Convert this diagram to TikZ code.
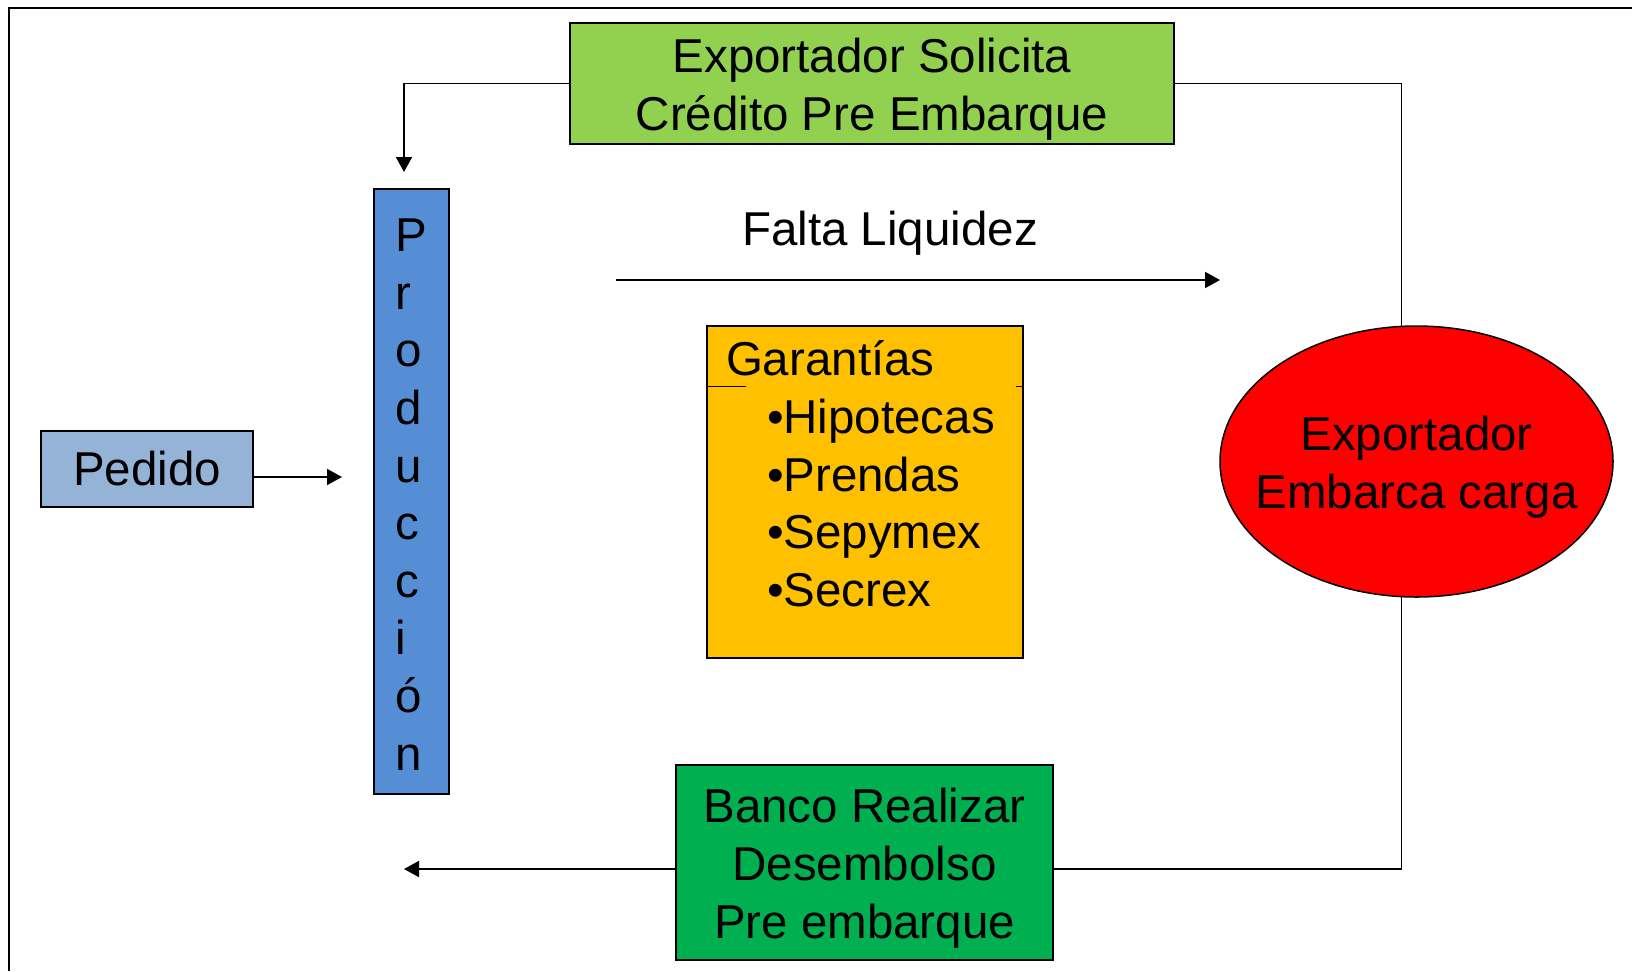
\documentclass[tikz,border=0pt]{standalone}
\usepackage{fontspec}
\setmainfont{Liberation Sans}
\usetikzlibrary{positioning,calc,arrows.meta,shapes.geometric}
\newcommand*{\bigtxt}{\fontsize{23.75pt}{29pt}\selectfont}
\definecolor{solgreen}{HTML}{92D050}
\definecolor{prodblue}{HTML}{558ED5}
\definecolor{pedblue}{HTML}{95B3D7}
\definecolor{garorange}{HTML}{FFC000}
\definecolor{bancogreen}{HTML}{00B050}

\begin{document}
\begin{tikzpicture}[x=0.5pt,y=-0.5pt,
  every node/.style={font=\bigtxt,inner sep=0pt,outer sep=0pt},
  box/.style={draw,line width=0.75pt},
  boxtxt/.style={align=center,yshift=-3pt},
  conn/.style={line width=0.9pt},
  arr/.style={conn,-{Triangle[length=7.5pt,width=8pt]}}]
\useasboundingbox (0,0) rectangle (1632,971);
% Frame (cut at right and bottom)
\draw[line width=0.75pt] (9,971) -- (9,8) -- (1632,8);
% Boxes
\node[box,fill=solgreen,minimum width=302pt,minimum height=60.5pt] (solicita) at (872,83.5) {};
\node[boxtxt] (solicitatxt) at (solicita.center) {Exportador Solicita\\Crédito Pre Embarque};
\node[box,fill=prodblue,minimum width=37.5pt,minimum height=302.5pt] (prod) at (411.5,491.5) {};
\node[align=left,yshift=-1.5pt,font=\fontsize{23.75pt}{28.8pt}\selectfont] (prodtxt) at (prod.center) {P\\r\\o\\d\\u\\c\\c\\i\\ó\\n};
\node[box,fill=pedblue,minimum width=106pt,minimum height=38pt] (pedido) at (147,469) {Pedido};
\node[box,fill=garorange,minimum width=158pt,minimum height=166pt] (garant) at (865,492) {};
\node[anchor=base west] (garhead) at (726,375) {Garantías};
\foreach \name/\txt/\y in {hipo/Hipotecas/433.5,prend/Prendas/491,sepy/Sepymex/548.5,secr/Secrex/606}
  \node[anchor=base west] (\name) at (767,\y) {•\txt};
\draw[line width=0.5pt] (707,386) -- (746,386);
\draw[line width=0.5pt] (1016,386) -- (1023,386);
\node[ellipse,draw,line width=0.75pt,fill=red,minimum width=196.5pt,minimum height=135.5pt] (embarca) at (1416.5,461.5) {};
\node[boxtxt] (embarcatxt) at (embarca.center) {Exportador\\Embarca carga};
\node[box,fill=bancogreen,minimum width=188.5pt,minimum height=97.5pt] (banco) at (864.5,862.5) {};
\node[boxtxt] (bancotxt) at (banco.center) {Banco Realizar\\Desembolso\\Pre embarque};
\node[anchor=base] (falta) at (890,245) {Falta Liquidez};
% Free ends of connectors
\coordinate (prodtop) at (404,172);
\coordinate (prodin) at (342,477);
\coordinate (desem) at (404,869);
\coordinate (liqa) at (616,280);
\coordinate (liqb) at (1220,280);
% Connectors
\draw[arr] (solicita.west) -| (prodtop);
\draw[conn] (solicita.east) -| ($(embarca.north)+(-15,0)$);
\draw[conn] ($(embarca.south)+(-15,0)$) |- (banco.east |- desem);
\draw[arr] (banco.west |- desem) -- (desem);
\draw[arr] (pedido.east |- prodin) -- (prodin);
\draw[arr] (liqa) -- (liqb);
\end{tikzpicture}
\end{document}
